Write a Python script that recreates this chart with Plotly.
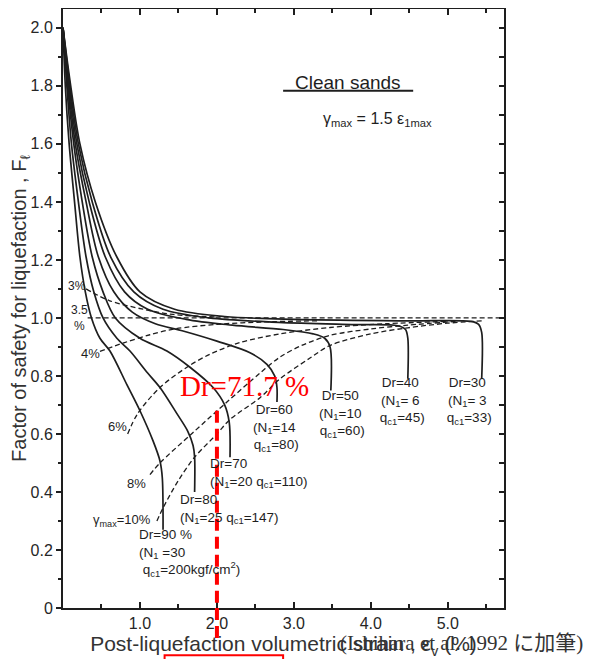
import plotly.graph_objects as go

# ---------------- data ----------------
# Dr curves: (volumetric strain %, factor of safety FL)
dr90_x = [0, 0.03, 0.08, 0.15, 0.22, 0.29, 0.37, 0.48, 0.61, 0.83, 1.0, 1.17, 1.26, 1.29, 1.3]
dr90_y = [2.0, 1.8, 1.6, 1.4, 1.21, 1.09, 1.0, 0.93, 0.886, 0.77, 0.68, 0.576, 0.507, 0.45, 0.27]
dr80_x = [0, 0.05, 0.11, 0.2, 0.3, 0.4, 0.52, 0.7, 0.87, 1.1, 1.26, 1.48, 1.62, 1.69, 1.71, 1.71]
dr80_y = [2.0, 1.8, 1.6, 1.4, 1.21, 1.09, 1.0, 0.93, 0.886, 0.81, 0.76, 0.67, 0.61, 0.56, 0.52, 0.40]
dr70_x = [0, 0.06, 0.14, 0.25, 0.38, 0.52, 0.68, 1.0, 1.35, 1.65, 1.95, 2.1, 2.16, 2.17]
dr70_y = [2.0, 1.8, 1.6, 1.4, 1.21, 1.09, 1.0, 0.93, 0.886, 0.83, 0.76, 0.70, 0.64, 0.52]
dr60_x = [0, 0.07, 0.16, 0.3, 0.46, 0.66, 0.9, 1.2, 1.56, 2.0, 2.43, 2.65, 2.75, 2.78, 2.78]
dr60_y = [2.0, 1.8, 1.6, 1.4, 1.21, 1.09, 1.02, 0.98, 0.955, 0.92, 0.88, 0.84, 0.80, 0.76, 0.71]
dr50_x = [0, 0.08, 0.18, 0.34, 0.55, 0.8, 1.1, 1.6, 2.2, 2.86, 3.25, 3.4, 3.47, 3.48]
dr50_y = [2.0, 1.8, 1.6, 1.4, 1.21, 1.09, 1.03, 0.995, 0.975, 0.96, 0.945, 0.93, 0.90, 0.75]
dr40_x = [0, 0.09, 0.2, 0.38, 0.62, 0.92, 1.3, 1.9, 2.8, 3.8, 4.35, 4.45, 4.48, 4.48]
dr40_y = [2.0, 1.8, 1.6, 1.4, 1.21, 1.09, 1.03, 1.0, 0.985, 0.977, 0.973, 0.96, 0.93, 0.79]
dr30_x = [0, 0.1, 0.22, 0.42, 0.7, 1.0, 1.45, 2.1, 3.0, 4.5, 5.3, 5.4, 5.44, 5.44]
dr30_y = [2.0, 1.8, 1.6, 1.4, 1.21, 1.09, 1.03, 1.005, 0.995, 0.99, 0.988, 0.978, 0.95, 0.79]

# gamma_max contours (dashed)
g3_x = [0.3, 0.6, 1.04, 1.43, 2.0]
g3_y = [1.1, 1.06, 1.03, 1.012, 1.003]
g35_x = [0.32, 5.73]
g35_y = [1.0, 1.0]
g4_x = [0.48, 0.8, 1.13, 1.45, 2.0, 2.6, 3.3]
g4_y = [0.885, 0.915, 0.942, 0.962, 0.978, 0.986, 0.99]
g6_x = [0.84, 0.97, 1.26, 1.61, 1.91, 2.3, 2.82, 3.47, 4.2, 5.0]
g6_y = [0.60, 0.67, 0.76, 0.83, 0.875, 0.915, 0.945, 0.967, 0.98, 0.988]
g8_x = [1.13, 1.26, 1.69, 2.13, 2.56, 2.82, 3.1, 3.47, 4.0, 4.48, 5.1]
g8_y = [0.46, 0.50, 0.605, 0.71, 0.81, 0.865, 0.905, 0.94, 0.962, 0.975, 0.988]
g10_x = [1.22, 1.30, 1.5, 1.71, 2.0, 2.17, 2.56, 2.82, 3.2, 3.47, 4.0, 4.48, 5.0, 5.44]
g10_y = [0.30, 0.345, 0.44, 0.52, 0.60, 0.65, 0.725, 0.79, 0.86, 0.905, 0.945, 0.966, 0.982, 0.99]

x_ticks = [1, 2, 3, 4, 5]
x_tick_text = ["1.0", "2.0", "3.0", "4.0", "5.0"]
y_ticks = [0, 0.2, 0.4, 0.6, 0.8, 1.0, 1.2, 1.4, 1.6, 1.8, 2.0]
y_tick_text = ["0", "0.2", "0.4", "0.6", "0.8", "1.0", "1.2", "1.4", "1.6", "1.8", "2.0"]
x_range = [0, 5.73]
y_range = [0, 2.065]

dr_sel = 2.0          # red marked strain
dr_sel_top = 0.68

INK = "#1e1e1e"
FONT = "Liberation Sans, Arial, sans-serif"

fig = go.Figure()
solid = dict(color=INK, width=1.7, shape="spline", smoothing=0.9)
dash = dict(color=INK, width=1.3, dash="5px,3px", shape="spline", smoothing=0.9)

for xs, ys in [(dr90_x, dr90_y), (dr80_x, dr80_y), (dr70_x, dr70_y), (dr60_x, dr60_y),
               (dr50_x, dr50_y), (dr40_x, dr40_y), (dr30_x, dr30_y)]:
    fig.add_trace(go.Scatter(x=xs, y=ys, mode="lines", line=solid, hoverinfo="skip"))
for xs, ys in [(g3_x, g3_y), (g35_x, g35_y), (g4_x, g4_y), (g6_x, g6_y), (g8_x, g8_y), (g10_x, g10_y)]:
    fig.add_trace(go.Scatter(x=xs, y=ys, mode="lines", line=dash, hoverinfo="skip"))

# secondary y axis: inside ticks on the right
fig.add_trace(go.Scatter(x=[None], y=[None], yaxis="y2", showlegend=False))

ann = []
def label(x, y, text, size=13.5, xanchor="center", align="center", **kw):
    ann.append(dict(x=x, y=y, xref="x", yref="y", text=text, showarrow=False,
                    xanchor=xanchor, align=align,
                    font=dict(family=FONT, size=size, color=INK), **kw))

label(3.70, 1.81, "Clean sands", size=19)
label(4.09, 1.683, "γ<sub>max</sub> = 1.5 ε<sub>1max</sub>", size=16)
label(0.18, 1.11, "3%", size=12)
label(0.22, 1.0, "3.5<br>%", size=12)
label(0.36, 0.876, "4%", size=13)
label(0.71, 0.624, "6%", size=13)
label(0.95, 0.43, "8%", size=13)
label(0.77, 0.30, "γ<sub>max</sub>=10%", size=13)
label(2.75, 0.62, "Dr=60<br>(N<sub>1</sub>=14<br> q<sub>c1</sub>=80)")
label(3.6, 0.67, "Dr=50<br>(N<sub>1</sub>=10<br> q<sub>c1</sub>=60)")
label(4.04, 0.715, "Dr=40<br>(N<sub>1</sub>= 6<br> q<sub>c1</sub>=45)", xanchor="left", align="center")
label(5.25, 0.715, "Dr=30<br>(N<sub>1</sub>= 3<br> q<sub>c1</sub>=33)")
label(1.88, 0.467, "Dr=70<br>(N<sub>1</sub>=20 q<sub>c1</sub>=110)", xanchor="left", align="left")
label(1.49, 0.34, "Dr=80<br>(N<sub>1</sub>=25 q<sub>c1</sub>=147)", xanchor="left", align="left")
label(0.96, 0.19, "Dr=90 %<br>(N<sub>1</sub> =30<br> q<sub>c1</sub>=200kgf/cm<sup>2</sup>)", xanchor="left", align="left")

# red annotation
ann.append(dict(x=1.49, y=0.765, xref="x", yref="y", text="Dr=71.7 %", showarrow=False,
                xanchor="left", yanchor="middle",
                font=dict(family="Liberation Serif, serif", size=29, color="#ff0000")))
# source note
ann.append(dict(x=1.0, y=-0.058, xref="paper", yref="paper", text="(Ishihara et al. 1992 に加筆)",
                showarrow=False, xanchor="right", yanchor="middle", xshift=81,
                font=dict(family="Liberation Serif, Noto Sans CJK JP, serif", size=21, color="#333")))

shapes = [
    dict(type="line", xref="x", yref="y", x0=2.86, x1=4.55, y0=1.783, y1=1.783,
         line=dict(color=INK, width=2)),
    dict(type="line", xref="x", yref="y", x0=dr_sel, x1=dr_sel, y0=dr_sel_top, y1=0,
         line=dict(color="#ff0000", width=4, dash="12px,6px")),
    dict(type="line", xref="x", yref="paper", x0=dr_sel, x1=dr_sel, y0=0, y1=-0.06,
         line=dict(color="#ff0000", width=4, dash="12px,6px")),
    dict(type="rect", xref="x", yref="paper", x0=1.32, x1=2.86, y0=-0.12, y1=-0.079,
         line=dict(color="#ff0000", width=2)),
]

fig.update_layout(
    width=583, height=652,
    margin=dict(l=55, r=87, t=1, b=52),
    paper_bgcolor="white", plot_bgcolor="white",
    showlegend=False,
    annotations=ann, shapes=shapes,
    xaxis=dict(range=x_range, tickvals=x_ticks, ticktext=x_tick_text, automargin=False,
               ticks="inside", ticklen=6, tickwidth=1.5, tickcolor=INK,
               minor=dict(tickvals=[0.5, 1.5, 2.5, 3.5, 4.5, 5.5], ticks="inside", ticklen=4, tickcolor=INK),
               showline=True, linecolor=INK, linewidth=2, mirror="ticks",
               showgrid=False, zeroline=False,
               tickfont=dict(family=FONT, size=16, color="#262626"),
               title=dict(text="Post-liquefaction volumetric strain , ε<sub>v</sub> (%)",
                          font=dict(family=FONT, size=21, color="#333"), standoff=4)),
    yaxis=dict(range=y_range, tickvals=y_ticks, ticktext=y_tick_text, automargin=False,
               ticks="outside", ticklen=5, tickwidth=1.5, tickcolor=INK,
               minor=dict(dtick=0.1, ticks="outside", ticklen=3, tickcolor=INK),
               showline=True, linecolor=INK, linewidth=2,
               showgrid=False, zeroline=False,
               tickfont=dict(family=FONT, size=16, color="#262626"),
               title=dict(text="Factor of safety for liquefaction , F<sub>ℓ</sub>",
                          font=dict(family=FONT, size=20, color="#333"), standoff=2)),
    yaxis2=dict(range=y_range, overlaying="y", side="right", dtick=0.1, ticks="inside",
                ticklen=5, tickwidth=1.5, tickcolor=INK, showticklabels=False, automargin=False,
                showline=True, linecolor=INK, linewidth=2, showgrid=False, zeroline=False),
)

fig.write_html("out.html")
